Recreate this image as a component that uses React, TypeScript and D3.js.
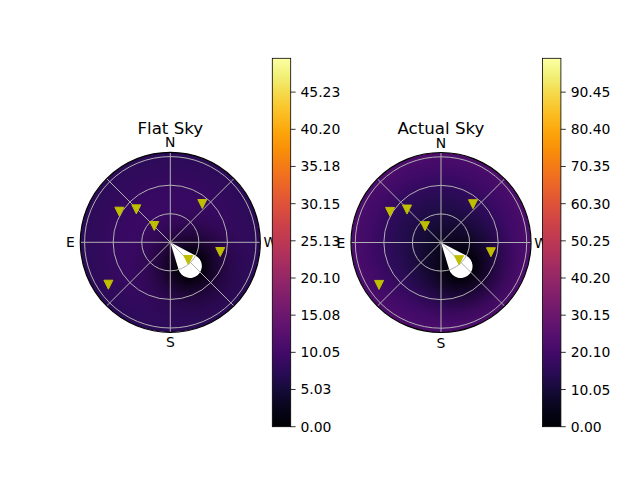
import * as d3 from 'd3'

// zenith angles (deg) at which the radial sky brightness was read
const zenithStops = [0, 15, 30, 45, 60, 75, 90, 94.5]
const flatSkyValues = [9.2, 9.2, 9.1, 8.9, 8.6, 8.1, 7.6, 7.3]
const actualSkyValues = [9, 10.5, 12, 14, 16.5, 19.5, 22, 23]

const flatMax = 49.8
const actualMax = 99.6
const flatTicks = [0, 5.03, 10.05, 15.08, 20.1, 25.13, 30.15, 35.18, 40.2, 45.23]
const actualTicks = [0, 10.05, 20.1, 30.15, 40.2, 50.25, 60.3, 70.35, 80.4, 90.45]

// stars, azimuth from north towards east, zenith angle in degrees
const starAzimuth = [59.0, 45.9, 44.5, 320.1, 259.0, 225.5, 124.4]
const starZenith = [62.4, 49.7, 24.0, 52.4, 53.4, 26.5, 78.8]

const sunAzimuth = 219.7
const sunZenith = 32.3
const sunMaskRadius = 12.5

// darkening around the sun: distance (deg) -> remaining fraction
const shadeDistance = [0, 13, 22, 34, 48, 64]
const shadeLevel = [0, 0.08, 0.35, 0.65, 0.88, 1]

const compassLabels = ['N', 'E', 'S', 'W']
const compassAzimuth = [0, 90, 180, 270]
const gridZenith = [30, 60, 90]
const spokeAzimuth = [0, 45, 90, 135, 180, 225, 270, 315]

const rMax = 94.5
const plotRadius = 90
const cbTop = 58.3
const cbBottom = 426.7
const cbWidth = 18.4
const font = 'DejaVu Sans, sans-serif'

const rScale = d3.scaleLinear().domain([0, rMax]).range([0, plotRadius])

function polar(az: number, zen: number) {
  const r = rScale(zen)
  const a = (az * Math.PI) / 180
  return [-r * Math.sin(a), -r * Math.cos(a)]
}

type SkyProps = {
  id: string
  title: string
  cx: number
  cy: number
  values: number[]
  vmax: number
  ticks: number[]
  cbX: number
}

function SkyPanel({ id, title, cx, cy, values, vmax, ticks, cbX }: SkyProps) {
  const color = (v: number) => d3.interpolateInferno(v / vmax)
  const cbScale = d3.scaleLinear().domain([0, vmax]).range([cbBottom, cbTop])

  const [sx, sy] = polar(sunAzimuth, sunZenith)
  const d = Math.hypot(sx, sy)
  const rb = rScale(sunMaskRadius)
  const phi = Math.atan2(sy, sx)
  const beta = Math.asin(rb / d)
  const len = Math.sqrt(d * d - rb * rb)
  const t1 = [len * Math.cos(phi - beta), len * Math.sin(phi - beta)]
  const t2 = [len * Math.cos(phi + beta), len * Math.sin(phi + beta)]
  const drop = `M0,0L${t1[0]},${t1[1]}A${rb},${rb} 0 1 1 ${t2[0]},${t2[1]}Z`

  const shadeR = rScale(shadeDistance[shadeDistance.length - 1])
  const tri = 4.5

  return (
    <g>
      <defs>
        <clipPath id={`${id}-clip`}>
          <circle cx={cx} cy={cy} r={plotRadius} />
        </clipPath>
        <radialGradient id={`${id}-sky`} gradientUnits="userSpaceOnUse" cx={cx} cy={cy} r={plotRadius}>
          {zenithStops.map((z, i) => (
            <stop key={z} offset={z / rMax} stopColor={color(values[i])} />
          ))}
        </radialGradient>
        <radialGradient id={`${id}-shade`} gradientUnits="userSpaceOnUse" cx={cx + sx} cy={cy + sy} r={shadeR}>
          {shadeDistance.map((s, i) => (
            <stop key={s} offset={rScale(s) / shadeR} stopColor="#000004" stopOpacity={1 - shadeLevel[i]} />
          ))}
        </radialGradient>
        <linearGradient id={`${id}-cb`} x1="0" y1="1" x2="0" y2="0">
          {d3.range(0, 1.0001, 0.05).map((t) => (
            <stop key={t} offset={t} stopColor={d3.interpolateInferno(t)} />
          ))}
        </linearGradient>
      </defs>

      <g clipPath={`url(#${id}-clip)`}>
        <circle cx={cx} cy={cy} r={plotRadius} fill={`url(#${id}-sky)`} />
        <circle cx={cx + sx} cy={cy + sy} r={shadeR} fill={`url(#${id}-shade)`} />
      </g>

      <path d={drop} transform={`translate(${cx},${cy})`} fill="#ffffff" />

      <g stroke="#b0b0b0" strokeWidth={1} fill="none">
        {gridZenith.map((z) => (
          <circle key={z} cx={cx} cy={cy} r={rScale(z)} />
        ))}
        {spokeAzimuth.map((az) => {
          const [x, y] = polar(az, rMax)
          return <line key={az} x1={cx} y1={cy} x2={cx + x} y2={cy + y} />
        })}
      </g>

      {starAzimuth.map((az, i) => {
        const [x, y] = polar(az, starZenith[i])
        return (
          <path
            key={i}
            transform={`translate(${cx + x},${cy + y})`}
            d={`M${-tri},${-tri}L${tri},${-tri}L0,${tri}Z`}
            fill="#bfbf00"
            stroke="#bfbf00"
            strokeWidth={1}
            strokeLinejoin="round"
          />
        )
      })}

      <circle cx={cx} cy={cy} r={plotRadius} fill="none" stroke="#000000" strokeWidth={1.2} />

      {compassLabels.map((label, i) => {
        const a = (compassAzimuth[i] * Math.PI) / 180
        const r = plotRadius + 10
        return (
          <text
            key={label}
            x={cx - r * Math.sin(a)}
            y={cy - r * Math.cos(a)}
            textAnchor="middle"
            dominantBaseline="central"
            fontSize={13.9}
            fontFamily={font}
            fill="#000000"
          >
            {label}
          </text>
        )
      })}

      <text x={cx} y={134} textAnchor="middle" fontSize={16.67} fontFamily={font} fill="#000000">
        {title}
      </text>

      <rect x={cbX} y={cbTop} width={cbWidth} height={cbBottom - cbTop} fill={`url(#${id}-cb)`} />
      <rect x={cbX} y={cbTop} width={cbWidth} height={cbBottom - cbTop} fill="none" stroke="#000000" strokeWidth={0.8} />
      {ticks.map((t) => (
        <g key={t}>
          <line x1={cbX + cbWidth} x2={cbX + cbWidth + 4.9} y1={cbScale(t)} y2={cbScale(t)} stroke="#000000" strokeWidth={0.8} />
          <text
            x={cbX + cbWidth + 9.8}
            y={cbScale(t)}
            dominantBaseline="central"
            fontSize={13.9}
            fontFamily={font}
            fill="#000000"
          >
            {t.toFixed(2)}
          </text>
        </g>
      ))}
    </g>
  )
}

export default function App() {
  return (
    <svg width={640} height={480} style={{ position: 'absolute', left: 0, top: 0, background: '#ffffff' }}>
      <rect width={640} height={480} fill="#ffffff" />
      <SkyPanel
        id="flat"
        title="Flat Sky"
        cx={170.3}
        cy={242.3}
        values={flatSkyValues}
        vmax={flatMax}
        ticks={flatTicks}
        cbX={272.3}
      />
      <SkyPanel
        id="actual"
        title="Actual Sky"
        cx={441}
        cy={242.5}
        values={actualSkyValues}
        vmax={actualMax}
        ticks={actualTicks}
        cbX={542.5}
      />
    </svg>
  )
}
